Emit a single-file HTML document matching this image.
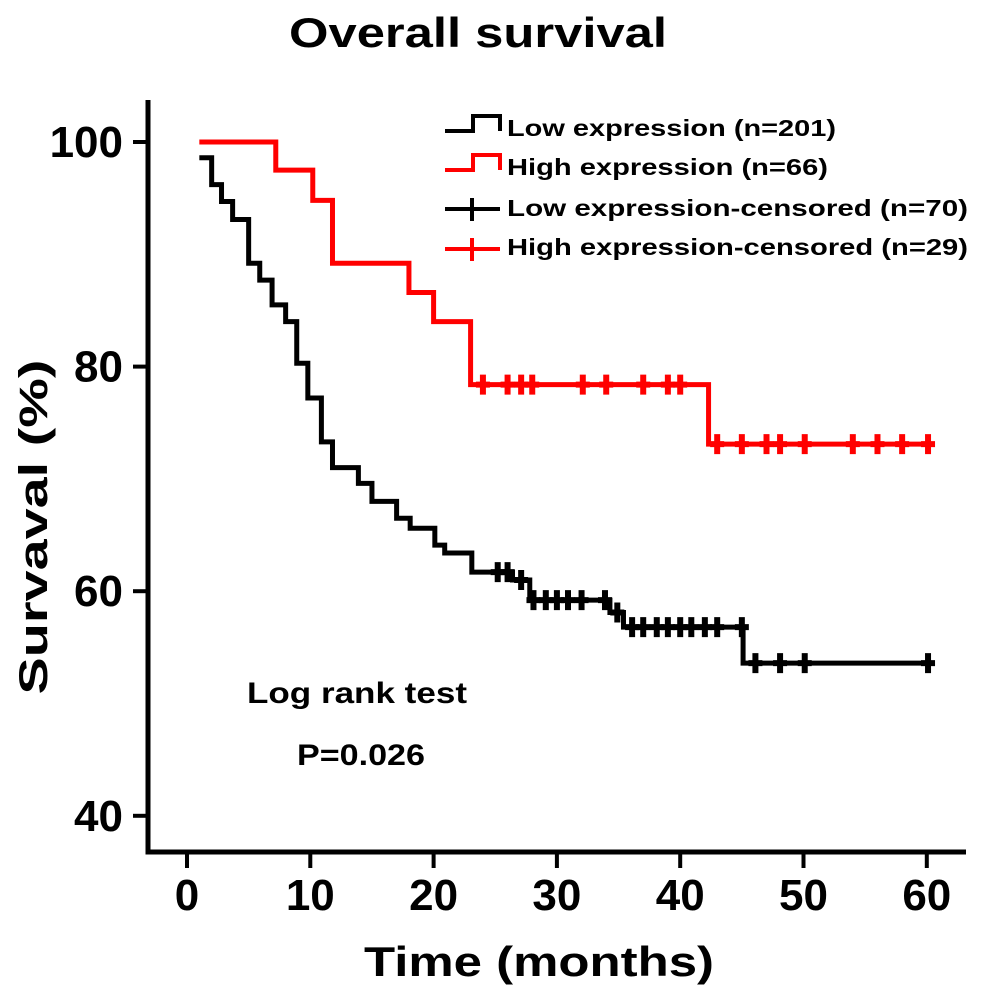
<!DOCTYPE html>
<html><head><meta charset="utf-8"><style>
html,body{margin:0;padding:0;background:#fff;}
svg{display:block;font-family:"Liberation Sans",Arial,sans-serif;font-weight:bold;}
</style></head><body>
<svg id="chart" width="982" height="998" viewBox="0 0 982 998">
<text x="478" y="47" font-size="42" text-anchor="middle" textLength="378" lengthAdjust="spacingAndGlyphs">Overall survival</text>
<text transform="translate(47,527) rotate(-90)" font-size="40" text-anchor="middle" textLength="335" lengthAdjust="spacingAndGlyphs">Survaval (%)</text>
<text x="539" y="976" font-size="42" text-anchor="middle" textLength="350" lengthAdjust="spacingAndGlyphs">Time (months)</text>
<g id="axes"></g>
<g id="series"></g>
<g id="legend">
  <path d="M445,131 H473 V116 H500 V131" fill="none" stroke="#000" stroke-width="4"/>
  <text x="507" y="136" font-size="23" textLength="329" lengthAdjust="spacingAndGlyphs">Low expression (n=201)</text>
  <path d="M445,170 H473 V155 H500 V170" fill="none" stroke="#f00" stroke-width="4"/>
  <text x="507" y="175" font-size="23" textLength="321" lengthAdjust="spacingAndGlyphs">High expression (n=66)</text>
  <path d="M445,209 H500 M472,198 V221" fill="none" stroke="#000" stroke-width="4"/>
  <text x="507" y="216" font-size="23" textLength="461" lengthAdjust="spacingAndGlyphs">Low expression-censored (n=70)</text>
  <path d="M445,249 H500 M472,238 V261" fill="none" stroke="#f00" stroke-width="4"/>
  <text x="507" y="255" font-size="23" textLength="461" lengthAdjust="spacingAndGlyphs">High expression-censored (n=29)</text>
</g>
<text x="357" y="703" font-size="30" text-anchor="middle" textLength="220" lengthAdjust="spacingAndGlyphs">Log rank test</text>
<text x="361" y="765" font-size="30" text-anchor="middle" textLength="128" lengthAdjust="spacingAndGlyphs">P=0.026</text>
</svg>
<script>
const xTicks=[0,10,20,30,40,50,60];
const yTicks=[40,60,80,100];
const lowTimes=[1,2.0,2.8,3.7,5.0,5.9,6.9,8.0,8.9,9.8,10.9,11.8,13.9,15.0,17.0,18.1,20.1,20.9,23.1,26.4,27.8,34.3,35.4,45.1];
const lowValues=[98.6,96.2,94.7,93.1,89.2,87.7,85.5,84.0,80.3,77.2,73.3,71.0,69.6,68.0,66.5,65.6,64.1,63.4,61.7,61.0,59.2,58.1,56.8,53.6];
const lowCensored=[25.2,26.0,27.1,28.1,29.1,30.0,30.9,32.0,33.9,34.9,36.1,37.0,38.1,39.0,40.0,40.9,42.0,43.0,45.0,46.1,48.1,50.1,60.1];
const highTimes=[1,7.2,10.2,11.8,18.0,20.0,23.0,42.3];
const highValues=[100,97.5,94.8,89.2,86.6,84.0,78.4,73.1];
const highCensored=[24,26,27.1,28,32.1,34,37,39,40,43,45,47,48.1,50.1,54,56,58,60.1];
const endTime=60.3;
const NS='http://www.w3.org/2000/svg';
const sx=t=>187+12.33*t;
const sy=v=>142+(100-v)*11.23;
function mk(tag,attrs,parent){const e=document.createElementNS(NS,tag);for(const k in attrs)e.setAttribute(k,attrs[k]);parent.appendChild(e);return e;}
const axes=document.getElementById('axes');
const ax=mk('path',{d:'M148,100 V852 H966',fill:'none',stroke:'#000','stroke-width':5},axes);


xTicks.forEach(t=>{
 const l=mk('line',{x1:sx(t),x2:sx(t),y1:852,y2:868,stroke:'#000','stroke-width':4},axes);
 
 
 const tx=mk('text',{x:sx(t),y:910,'font-size':44,'text-anchor':'middle'},axes);tx.textContent=t;
 
 
});
yTicks.forEach(v=>{
 const l=mk('line',{x1:133,x2:148,y1:sy(v),y2:sy(v),stroke:'#000','stroke-width':4},axes);
 
 
 const tx=mk('text',{x:123,y:sy(v)+15,'font-size':44,'text-anchor':'end'},axes);tx.textContent=v;
 
 
});
function valAt(times,vals,t){let v=vals[0];for(let i=0;i<times.length;i++){if(times[i]<=t)v=vals[i];}return v;}
function drawSeries(times,vals,cens,color,name){
 const g=document.getElementById('series');
 let d='M'+sx(times[0])+','+sy(vals[0]);
 for(let i=1;i<times.length;i++){d+=' H'+sx(times[i])+' V'+sy(vals[i]);}
 d+=' H'+sx(endTime);
 const p=mk('path',{d:d,fill:'none',stroke:color,'stroke-width':5},g);
 
 
 cens.forEach(t=>{
  const y=sy(valAt(times,vals,t));
  const c=mk('path',{d:'M'+(sx(t)-7)+','+y+' H'+(sx(t)+7)+' M'+sx(t)+','+(y-10)+' V'+(y+10),stroke:color,'stroke-width':6,fill:'none'},g);
  
  
 });
}
drawSeries(highTimes,highValues,highCensored,'#f00','high-expression');
drawSeries(lowTimes,lowValues,lowCensored,'#000','low-expression');
</script>
</body></html>
